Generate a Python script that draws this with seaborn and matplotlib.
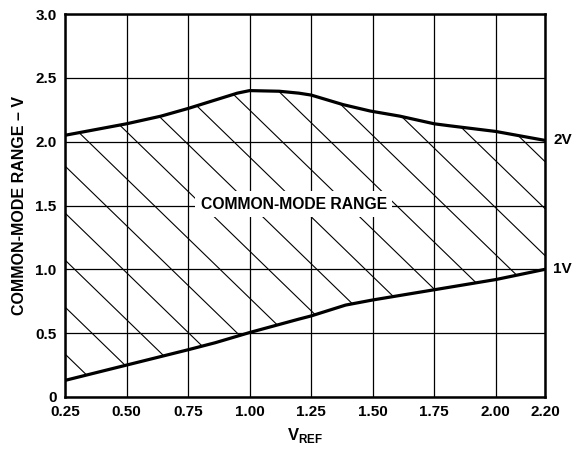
"""
Common-mode range vs V_REF, redrawn with seaborn.
"""
import numpy as np
import matplotlib
matplotlib.use("Agg")
import matplotlib.pyplot as plt
import seaborn as sns

# upper limit of the common-mode range
vref_upper = [0.25, 0.50, 0.64, 0.75, 0.80, 0.90, 0.95, 1.00, 1.12, 1.20,
              1.25, 1.38, 1.49, 1.61, 1.75, 1.81, 2.00, 2.20]
cm_upper = [2.05, 2.14, 2.20, 2.26, 2.29, 2.35, 2.38, 2.40, 2.395, 2.38,
            2.365, 2.29, 2.24, 2.20, 2.14, 2.125, 2.08, 2.01]

# lower limit of the common-mode range
vref_lower = [0.25, 0.50, 0.75, 0.86, 1.00, 1.20, 1.25, 1.39, 1.50, 1.75,
              2.00, 2.20]
cm_lower = [0.13, 0.25, 0.37, 0.425, 0.505, 0.61, 0.635, 0.72, 0.76, 0.84,
            0.92, 1.00]

x_ticks = [0.25, 0.50, 0.75, 1.00, 1.25, 1.50, 1.75, 2.00, 2.20]
x_tick_labels = ["0.25", "0.50", "0.75", "1.00", "1.25", "1.50", "1.75",
                 "2.00", "2.20"]
y_ticks = [0, 0.5, 1.0, 1.5, 2.0, 2.5, 3.0]
y_tick_labels = ["0", "0.5", "1.0", "1.5", "2.0", "2.5", "3.0"]

region_label = "COMMON-MODE RANGE"
region_label_pos = (1.18, 1.51)
end_labels = ["2V", "1V"]
y_label = "COMMON-MODE RANGE \u2013 V"
x_label = r"$\mathbf{V}_{\mathbf{REF}}$"

sns.set_theme(style="white")
plt.rcParams["font.family"] = ["Liberation Sans", "DejaVu Sans"]
plt.rcParams["font.weight"] = "bold"
plt.rcParams["text.color"] = "black"
plt.rcParams["axes.labelcolor"] = "black"
plt.rcParams["mathtext.fontset"] = "custom"
plt.rcParams["mathtext.rm"] = "Liberation Sans"
plt.rcParams["mathtext.bf"] = "Liberation Sans:bold"

W, H = 580, 451
fig = plt.figure(figsize=(W / 100, H / 100), dpi=100)
ax = fig.add_axes([65 / W, 1 - 397 / H, 480 / W, 383 / H])

sns.lineplot(x=vref_upper, y=cm_upper, color="black", lw=2.3, ax=ax,
             estimator=None, sort=False, zorder=3)
sns.lineplot(x=vref_lower, y=cm_lower, color="black", lw=2.3, ax=ax,
             estimator=None, sort=False, zorder=3)

# invisible region between the curves, used to clip the hatch lines
xs = np.concatenate([vref_upper, vref_lower[::-1]])
ys = np.concatenate([cm_upper, cm_lower[::-1]])
region = ax.fill(xs, ys, facecolor="none", edgecolor="none")[0]

ax.set_xlim(x_ticks[0], x_ticks[-1])
ax.set_ylim(y_ticks[0], y_ticks[-1])
ax.set_xticks(x_ticks, x_tick_labels)
ax.set_yticks(y_ticks, y_tick_labels)
ax.tick_params(length=0, labelsize=11, labelcolor="black", pad=6)
ax.grid(True, color="black", lw=0.9)
ax.set_axisbelow(True)
for s in ax.spines.values():
    s.set_color("black")
    s.set_linewidth(1.8)

# diagonal hatch, ~45 deg in pixel space (offsets in axes pixels from top-left)
bb = ax.get_window_extent()
w, h = bb.width, bb.height
slope = 0.97
for c in np.arange(-318, 345, 47):
    yt = np.array([c, c + slope * w])
    ln, = ax.plot([0, 1], 1 - yt / h, transform=ax.transAxes,
                  color="black", lw=0.8, zorder=2)
    ln.set_clip_path(region)

ax.text(*region_label_pos, region_label, ha="center", va="center",
        fontsize=11.3, fontweight="bold", zorder=5,
        bbox=dict(facecolor="white", edgecolor="none", pad=4))

ax.annotate(end_labels[0], xy=(vref_upper[-1], cm_upper[-1]),
            xytext=(6, 0), textcoords="offset points", va="center",
            fontsize=11, fontweight="bold", annotation_clip=False)
ax.annotate(end_labels[1], xy=(vref_lower[-1], cm_lower[-1]),
            xytext=(6, 0), textcoords="offset points", va="center",
            fontsize=11, fontweight="bold", annotation_clip=False)

ax.set_ylabel(y_label, fontsize=11.5, fontweight="bold", labelpad=6)
ax.set_xlabel(x_label, fontsize=12, labelpad=5)

fig.savefig("out.png", dpi=100)
